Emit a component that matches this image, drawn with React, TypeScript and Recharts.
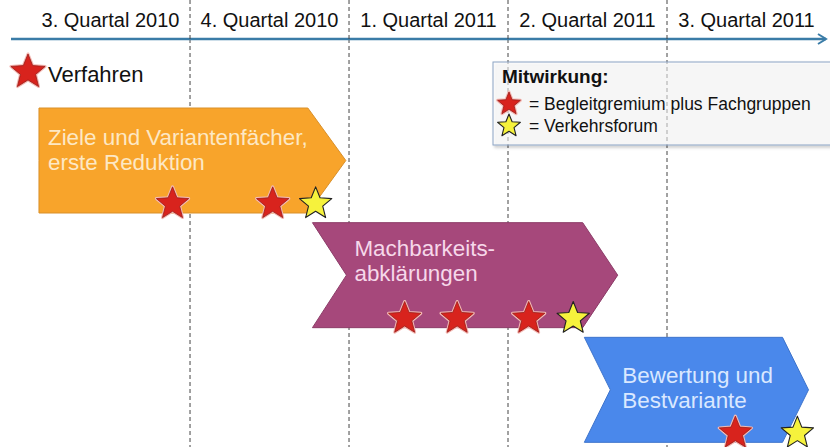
import { Bar, CartesianGrid, ComposedChart, Scatter, XAxis, YAxis } from "recharts";

// timeline in quarter units, 0 = start of Q3 2010
const QUARTERS = [
  "3. Quartal 2010",
  "4. Quartal 2010",
  "1. Quartal 2011",
  "2. Quartal 2011",
  "3. Quartal 2011",
];
const QUARTER_BOUNDS = [1, 2, 3, 4];

const PHASE_NAMES = ["ziele", "machbarkeit", "bewertung"];
const PHASE_LINES = [
  ["Ziele und Variantenfächer,", "erste Reduktion"],
  ["Machbarkeits-", "abklärungen"],
  ["Bewertung und", "Bestvariante"],
];
const PHASE_START = [0.05, 1.77, 3.48];
const PHASE_END = [1.98, 3.69, 4.89];

// Begleitgremium plus Fachgruppen (red), Verkehrsforum (yellow)
const RED_STARS = [[0.89, 1.52], [2.35, 2.68, 3.13], [4.43]];
const YELLOW_STARS = [[1.79], [3.41], [4.82]];

const FONT = "'Liberation Sans', Arial, sans-serif";

const PHASE_STYLE = [
  { fill: "#F8A42B", stroke: "#D9902A", text: "#FDE8C4", tip: 38, notch: 0, tx: 9, ty: 37 },
  { fill: "#A6487B", stroke: "#8C3C68", text: "#F6D8EA", tip: 35, notch: 34, tx: 42, ty: 33 },
  { fill: "#4A88EB", stroke: "#3E74CC", text: "#DAE8FF", tip: 26, notch: 26, tx: 38, ty: 46 },
];

const phases = PHASE_NAMES.map((name, i) => ({
  name,
  span: [PHASE_START[i], PHASE_END[i]],
  lines: PHASE_LINES[i],
}));

const toPoints = (rows: number[][]) =>
  rows.flatMap((qs, i) => qs.map((q) => ({ name: PHASE_NAMES[i], q })));

const redPoints = toPoints(RED_STARS);
const yellowPoints = toPoints(YELLOW_STARS);

const ticks = QUARTERS.flatMap((_, i) => [i + 0.5, i + 1]);

function starPoints(cx: number, cy: number, R: number, r: number) {
  const pts: string[] = [];
  for (let k = 0; k < 10; k++) {
    const rad = k % 2 === 0 ? R : r;
    const a = -Math.PI / 2 + (k * Math.PI) / 5;
    pts.push(`${cx + rad * Math.cos(a)},${cy + rad * Math.sin(a)}`);
  }
  return pts.join(" ");
}

function RedStar({ cx, cy, size = 17 }: any) {
  return (
    <g>
      <polygon points={starPoints(cx, cy, size, size * 0.44)} fill="none" stroke="#F3B9B4" strokeWidth={3} strokeLinejoin="round" />
      <polygon points={starPoints(cx, cy, size, size * 0.44)} fill="#D8231D" stroke="#9A1C16" strokeWidth={0.8} />
    </g>
  );
}

function YellowStar({ cx, cy, size = 17 }: any) {
  return (
    <polygon points={starPoints(cx, cy, size, size * 0.44)} fill="#F6F23C" stroke="#222" strokeWidth={1.1} strokeLinejoin="round" />
  );
}

// stars sit near the bottom edge of their chevron
const STAR_DY = 43.5;

function Chevron(props: any) {
  const { x, y, width, height, index, payload } = props;
  const s = PHASE_STYLE[index];
  const pts = [
    [x, y],
    [x + width - s.tip, y],
    [x + width, y + height / 2],
    [x + width - s.tip, y + height],
    [x, y + height],
    [x + s.notch, y + height / 2],
  ]
    .map((p) => p.join(","))
    .join(" ");
  return (
    <g>
      <polygon points={pts} fill={s.fill} stroke={s.stroke} strokeWidth={1} />
      {payload.lines.map((line: string, k: number) => (
        <text
          key={k}
          x={x + s.tx}
          y={y + s.ty + k * 25}
          fill={s.text}
          fontSize={22.4}
          fontFamily={FONT}
        >
          {line}
        </text>
      ))}
    </g>
  );
}

function QuarterTick(props: any) {
  const { x, y, payload } = props;
  const v = payload.value;
  if (Number.isInteger(v)) {
    if (v >= QUARTERS.length) {
      return (
        <polyline
          points={`${x - 8},${y - 5} ${x},${y} ${x - 8},${y + 5}`}
          fill="none"
          stroke="#3A7CA7"
          strokeWidth={2}
        />
      );
    }
    return <line x1={x} y1={y} x2={x} y2={y - 39} stroke="#444" strokeDasharray="4 3" />;
  }
  return (
    <text x={x} y={y - 12} textAnchor="middle" fontSize={20} fontFamily={FONT} fill="#111">
      {QUARTERS[Math.floor(v)]}
    </text>
  );
}

function Overlay() {
  return (
    <svg width={830} height={447} style={{ position: "absolute", left: 0, top: 0, pointerEvents: "none" }}>
      <defs>
        <filter id="shadow" x="-5%" y="-10%" width="115%" height="130%">
          <feDropShadow dx={2} dy={2} stdDeviation={1.5} floodColor="#000" floodOpacity={0.3} />
        </filter>
      </defs>
      <RedStar cx={28} cy={72} size={18} />
      <text x={48} y={82} fontSize={22} fontFamily={FONT} fill="#111">
        Verfahren
      </text>
      <rect x={493} y={62} width={345} height={83} fill="rgba(255,255,255,0.5)" stroke="#8CA4C4" strokeWidth={1} filter="url(#shadow)" />
      <text x={502} y={83} fontSize={19} fontWeight="bold" fontFamily={FONT} fill="#111">
        Mitwirkung:
      </text>
      <RedStar cx={509} cy={104} size={12} />
      <text x={529} y={110} fontSize={17.5} fontFamily={FONT} fill="#111">
        = Begleitgremium plus Fachgruppen
      </text>
      <YellowStar cx={509} cy={126} size={12} />
      <text x={529} y={132} fontSize={17.5} fontFamily={FONT} fill="#111">
        = Verkehrsforum
      </text>
    </svg>
  );
}

export default function App() {
  return (
    <div style={{ position: "absolute", left: 0, top: 0, width: 830, height: 447, background: "#fff" }}>
      <ComposedChart
        width={830}
        height={447}
        layout="vertical"
        data={phases}
        margin={{ top: 0, right: 4, bottom: 0, left: 11 }}
      >
        <CartesianGrid
          horizontal={false}
          verticalValues={QUARTER_BOUNDS}
          stroke="#444"
          strokeDasharray="4 3"
        />
        <XAxis
          type="number"
          orientation="top"
          domain={[-0.126, 5]}
          allowDataOverflow
          ticks={ticks}
          interval={0}
          height={39}
          tickSize={0}
          tickMargin={0}
          tickLine={false}
          axisLine={{ stroke: "#3A7CA7", strokeWidth: 2.5 }}
          tick={<QuarterTick />}
        />
        <YAxis
          type="category"
          dataKey="name"
          hide
          allowDuplicatedCategory={false}
          padding={{ top: 64, bottom: 0 }}
        />
        <Bar dataKey="span" barSize={105} shape={<Chevron />} isAnimationActive={false} />
        <Scatter
          data={redPoints}
          dataKey="q"
          isAnimationActive={false}
          shape={(p: any) => <RedStar cx={p.cx} cy={p.cy + STAR_DY} />}
        />
        <Scatter
          data={yellowPoints}
          dataKey="q"
          isAnimationActive={false}
          shape={(p: any) => <YellowStar cx={p.cx} cy={p.cy + STAR_DY} />}
        />
      </ComposedChart>
      <Overlay />
    </div>
  );
}
